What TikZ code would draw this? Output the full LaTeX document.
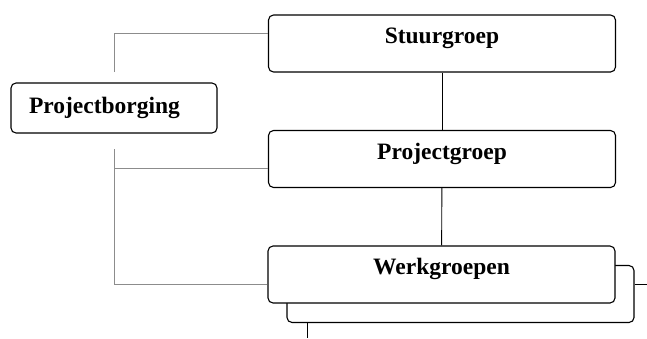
\documentclass[tikz,border=0pt]{standalone}
\usepackage{fontspec}
\setmainfont{Liberation Serif}
\usepackage{xcolor}
\usepackage{tikz}
\usetikzlibrary{calc}
\definecolor{linegray}{HTML}{8C8C8C}

\begin{document}
\begin{tikzpicture}[x=1pt, y=-1pt,
    basebox/.style={draw, line width=1.1pt, rounded corners=5pt, fill=white,
        inner sep=0pt, font=\fontsize{23.5}{27}\selectfont\bfseries},
    box/.style={basebox, minimum width=347pt, minimum height=57pt,
        text height=6pt, text depth=6pt},
    sidebox/.style={basebox, minimum width=206pt, minimum height=50pt,
        text width=170pt, align=left},
    link/.style={line width=0.9pt},
    guide/.style={linegray, line width=0.8pt}]
    \useasboundingbox (0,0) rectangle (647,338);
    % main column
    \node[box] (stuur) at (442,43.5) {Stuurgroep};
    \node[box] (project) at (442,159) {Projectgroep};
    \node[box] (werkback) at (460.5,294) {};
    \node[box] (werk) at (441.5,274.5) {Werkgroepen};
    \node[sidebox] (borging) at (114,108) {Projectborging};
    \draw[link] (stuur) -- (project);
    \draw[link] (project) -- (werk);
    % stubs of the back box
    \coordinate (rightEnd) at (647,284);
    \coordinate (bottomEnd) at (307,338);
    \draw[link] (werkback.east |- rightEnd) -- (rightEnd);
    \draw[link] (werkback.south -| bottomEnd) -- (bottomEnd);
    % grey guide lines
    \coordinate (upEnd) at (114,72);
    \coordinate (upTop) at (114,33);
    \coordinate (downEnd) at (114,149);
    \coordinate (midJoin) at (114,168);
    \coordinate (downBot) at (114,284);
    \draw[guide] (upEnd) -- (upTop) -- (stuur.west |- upTop);
    \draw[guide] (downEnd) -- (downBot) -- (werk.west |- downBot);
    \draw[guide] (midJoin) -- (project.west |- midJoin);
\end{tikzpicture}
\end{document}
